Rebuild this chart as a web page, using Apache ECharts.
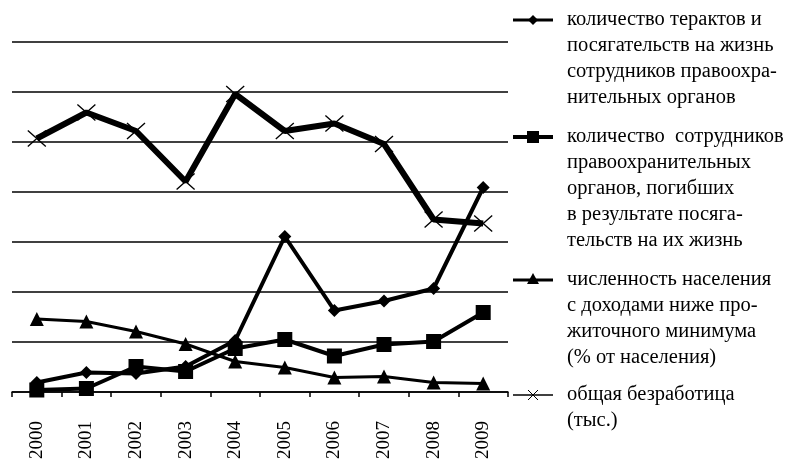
<!DOCTYPE html>
<html>
<head>
<meta charset="utf-8">
<script src="https://cdn.jsdelivr.net/npm/echarts@6/dist/echarts.min.js"></script>
<style>
html,body{margin:0;padding:0;background:#fff;}
#chart{width:805px;height:464px;}
</style>
</head>
<body>
<div id="chart"></div>
<script>
const categories = ['2000','2001','2002','2003','2004','2005','2006','2007','2008','2009'];
const seriesNames = [
  'количество терактов и посягательств на жизнь сотрудников правоохранительных органов',
  'количество сотрудников правоохранительных органов, погибших в результате посягательств на их жизнь',
  'численность населения с доходами ниже прожиточного минимума (% от населения)',
  'общая безработица (тыс.)'
];
const terrorActs   = [0.19, 0.39, 0.37, 0.51, 1.03, 3.11, 1.63, 1.82, 2.07, 4.09];
const policeKilled = [0.04, 0.07, 0.51, 0.41, 0.87, 1.05, 0.72, 0.95, 1.01, 1.59];
const poverty      = [1.46, 1.41, 1.21, 0.96, 0.61, 0.49, 0.29, 0.31, 0.19, 0.17];
const unemployment = [5.07, 5.59, 5.22, 4.21, 5.96, 5.22, 5.37, 4.96, 3.45, 3.37];
const legendLines = [
  ['количество терактов и','посягательств на жизнь','сотрудников правоохра-','нительных органов'],
  ['количество  сотрудников','правоохранительных','органов, погибших','в результате посяга-','тельств на их жизнь'],
  ['численность населения','с доходами ниже про-','житочного минимума','(% от населения)'],
  ['общая безработица','(тыс.)']
];

const FONT = '"Liberation Serif", "Times New Roman", serif';
const chart = echarts.init(document.getElementById('chart'), null, {renderer:'canvas'});

const xPath = 'path://M0,0L10,10M10,0L0,10';

// legend graphics
const legendY = [20, 137, 280, 395];
const lineH = 26;
const graphics = [];
const iconX0 = 513, iconX1 = 553, iconMid = 533;
legendLines.forEach((lines, i) => {
  const y = legendY[i];
  graphics.push({
    type:'text', left: 567, top: y - lineH/2,
    style:{text: lines.join('\n'), font: '20.5px ' + FONT, lineHeight: lineH, fill:'#000', verticalAlign:'top'}
  });
  const lw = [3, 4, 3, 1.5][i];
  graphics.push({type:'line', shape:{x1:iconX0,y1:y,x2:iconX1,y2:y}, style:{stroke:'#000', lineWidth:lw}});
  if (i === 0) {
    graphics.push({type:'polygon', shape:{points:[[iconMid,y-5],[iconMid+5,y],[iconMid,y+5],[iconMid-5,y]]}, style:{fill:'#000'}});
  } else if (i === 1) {
    graphics.push({type:'rect', shape:{x:iconMid-6,y:y-6,width:12,height:12}, style:{fill:'#000'}});
  } else if (i === 2) {
    graphics.push({type:'polygon', shape:{points:[[iconMid,y-7],[iconMid+6,y+4],[iconMid-6,y+4]]}, style:{fill:'#000'}});
  } else {
    graphics.push({type:'line', shape:{x1:iconMid-5,y1:y-5,x2:iconMid+5,y2:y+5}, style:{stroke:'#000', lineWidth:1}});
    graphics.push({type:'line', shape:{x1:iconMid+5,y1:y-5,x2:iconMid-5,y2:y+5}, style:{stroke:'#000', lineWidth:1}});
  }
});

const option = {
  backgroundColor:'#fff',
  animation:false,
  grid:{left:12, right:297, top:42, bottom:72, containLabel:false},
  xAxis:{
    type:'category', data:categories, boundaryGap:true,
    axisLine:{show:true, lineStyle:{color:'#000', width:1.5}},
    axisTick:{show:true, length:5, lineStyle:{color:'#000', width:1.5}},
    axisLabel:{rotate:90, margin:29, fontFamily:FONT, fontSize:19, color:'#000', interval:0},
    splitLine:{show:false}
  },
  yAxis:{
    type:'value', min:0, max:7, interval:1,
    axisLine:{show:false}, axisTick:{show:false}, axisLabel:{show:false},
    splitLine:{show:true, lineStyle:{color:'#000', width:1.5}}
  },
  graphic: graphics,
  series:[
    {
      name:seriesNames[3], type:'line', data:unemployment, z:2,
      symbol:xPath, symbolSize:[18,16],
      lineStyle:{color:'#000', width:6},
      itemStyle:{color:'#000', borderColor:'#000', borderWidth:1.2}
    },
    {
      name:seriesNames[2], type:'line', data:poverty, z:3,
      symbol:'triangle', symbolSize:14,
      lineStyle:{color:'#000', width:3},
      itemStyle:{color:'#000', borderWidth:0}
    },
    {
      name:seriesNames[1], type:'line', data:policeKilled, z:4,
      symbol:'rect', symbolSize:15,
      lineStyle:{color:'#000', width:4},
      itemStyle:{color:'#000', borderWidth:0}
    },
    {
      name:seriesNames[0], type:'line', data:terrorActs, z:5,
      symbol:'diamond', symbolSize:13,
      lineStyle:{color:'#000', width:4},
      itemStyle:{color:'#000', borderWidth:0}
    }
  ]
};
chart.setOption(option);
</script>
</body>
</html>
